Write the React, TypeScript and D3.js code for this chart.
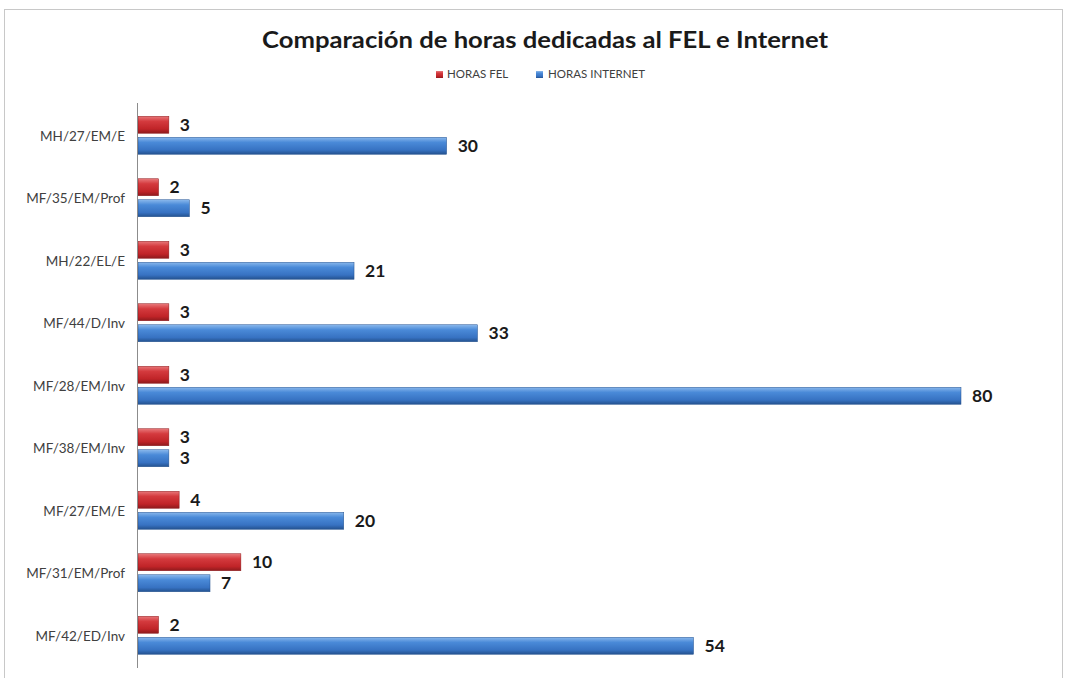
import React from "react";
import * as d3 from "d3";

const categories = [
  "MH/27/EM/E",
  "MF/35/EM/Prof",
  "MH/22/EL/E",
  "MF/44/D/Inv",
  "MF/28/EM/Inv",
  "MF/38/EM/Inv",
  "MF/27/EM/E",
  "MF/31/EM/Prof",
  "MF/42/ED/Inv",
];
const horasFEL = [3, 2, 3, 3, 3, 3, 4, 10, 2];
const horasInternet = [30, 5, 21, 33, 80, 3, 20, 7, 54];
const seriesNames = ["HORAS FEL", "HORAS INTERNET"];

const W = 1067;
const H = 678;
const font = "Lato, 'Open Sans', 'Liberation Sans', sans-serif";

export default function App() {
  const x0 = 138;
  const x = d3.scaleLinear().domain([0, 80]).range([x0, 961]);
  const y = d3.scaleBand<string>().domain(categories).range([105, 667.5]);
  const barH = 17;
  const gap = 4;
  const groupH = barH * 2 + gap;

  return (
    <svg width={W} height={H} style={{ position: "absolute", left: 0, top: 0, background: "#fff" }}>
      <defs>
        <linearGradient id="gRed" x1="0" y1="0" x2="0" y2="1">
          <stop offset="0" stopColor="#e8787a" />
          <stop offset="0.3" stopColor="#d43a3e" />
          <stop offset="0.75" stopColor="#c02428" />
          <stop offset="1" stopColor="#8e1a1d" />
        </linearGradient>
        <linearGradient id="gBlue" x1="0" y1="0" x2="0" y2="1">
          <stop offset="0" stopColor="#8ab8ec" />
          <stop offset="0.3" stopColor="#4a8ad8" />
          <stop offset="0.75" stopColor="#3772c2" />
          <stop offset="1" stopColor="#24528f" />
        </linearGradient>
      </defs>
      <rect x={4.5} y={9.5} width={1058} height={700} fill="#fff" stroke="#c8c8c8" strokeWidth={1} />
      <text x={545} y={48} textAnchor="middle" fontFamily={font} fontWeight="bold" fontSize={23} fill="#1a1a1a" textLength={566} lengthAdjust="spacingAndGlyphs">
        Comparación de horas dedicadas al FEL e Internet
      </text>
      {/* Legend */}
      <rect x={436} y={71} width={7} height={7} fill="url(#gRed)" />
      <text x={447} y={78} fontFamily={font} fontSize={11.5} fill="#404040">{seriesNames[0]}</text>
      <rect x={536} y={71} width={7} height={7} fill="url(#gBlue)" />
      <text x={548} y={78} fontFamily={font} fontSize={11.5} fill="#404040">{seriesNames[1]}</text>

      {categories.map((c, i) => {
        const top = (y(c) as number) + (y.bandwidth() - groupH) / 2 - 1;
        const yr = top;
        const yb = top + barH + gap;
        return (
          <g key={c}>
            <text x={125} y={(y(c) as number) + y.bandwidth() / 2 + 4.5} textAnchor="end" fontFamily={font} fontSize={13.5} fill="#404040">
              {c}
            </text>
            <rect x={x(0)} y={yr} width={x(horasFEL[i]) - x(0)} height={barH} fill="url(#gRed)" stroke="#8e1a1d" strokeWidth={0.5} />
            <rect x={x(0)} y={yb} width={x(horasInternet[i]) - x(0)} height={barH} fill="url(#gBlue)" stroke="#24528f" strokeWidth={0.5} />
            <text x={x(horasFEL[i]) + 11} y={yr + barH / 2 + 6} fontFamily={font} fontWeight="bold" fontSize={17.5} fill="#1a1a1a">
              {horasFEL[i]}
            </text>
            <text x={x(horasInternet[i]) + 11} y={yb + barH / 2 + 6} fontFamily={font} fontWeight="bold" fontSize={17.5} fill="#1a1a1a">
              {horasInternet[i]}
            </text>
          </g>
        );
      })}
      <line x1={x0 - 0.5} x2={x0 - 0.5} y1={103} y2={668} stroke="#8c8c8c" strokeWidth={1} />
    </svg>
  );
}
